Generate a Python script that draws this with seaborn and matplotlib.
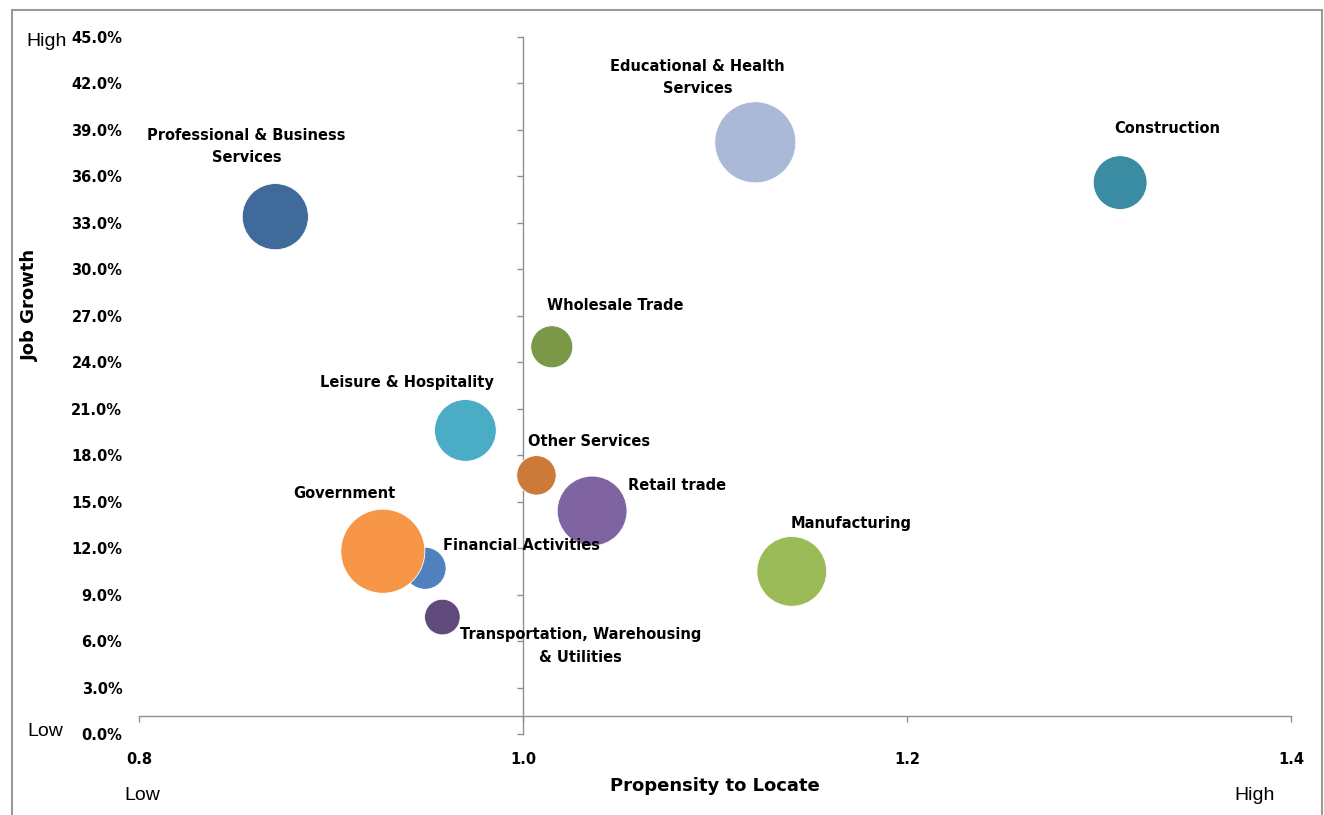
import matplotlib
matplotlib.use("Agg")
import matplotlib.pyplot as plt
import seaborn as sns
import pandas as pd
from matplotlib.patches import Rectangle
from matplotlib.ticker import FuncFormatter

# Industry bubbles: propensity to locate vs. job growth, bubble area ~ employment
industries = [
    "Professional & Business Services", "Educational & Health Services",
    "Construction", "Wholesale Trade", "Leisure & Hospitality",
    "Other Services", "Retail trade", "Financial Activities", "Government",
    "Transportation, Warehousing & Utilities", "Manufacturing",
]
labels = [
    "Professional & Business\nServices", "Educational & Health\nServices",
    "Construction", "Wholesale Trade", "Leisure & Hospitality",
    "Other Services", "Retail trade", "Financial Activities", "Government",
    "Transportation, Warehousing\n& Utilities", "Manufacturing",
]
propensity = [0.871, 1.121, 1.311, 1.015, 0.970, 1.007, 1.036, 0.949, 0.927, 0.958, 1.140]
job_growth = [0.334, 0.382, 0.356, 0.250, 0.196, 0.167, 0.144, 0.107, 0.118, 0.0755, 0.105]
employment = [62, 93, 41, 25, 54, 22, 69, 25, 100, 18, 69]
colors = ["#3F6A9A", "#A9B9D7", "#3A8CA3", "#7A9848", "#4BACC6", "#CC7A39",
          "#8064A2", "#4F81BD", "#F79646", "#604A7B", "#9BBB59"]

x_ticks = [0.8, 1.0, 1.2, 1.4]
y_ticks = [i * 0.03 for i in range(16)]

# label placement relative to each bubble centre (pixels)
label_offsets = [(-29, 70), (-58, 65), (47, 54), (63, 41), (-58, 48), (53, 34),
                 (85, 25), (96, 23), (-38, 58), (138, -29), (59, 48)]

df = pd.DataFrame({"industry": industries, "label": labels, "propensity": propensity,
                   "growth": job_growth, "employment": employment})

sns.set_theme(style="white")
plt.rcParams["font.family"] = ["DejaVu Sans"]
plt.rcParams["text.color"] = "black"

fig = plt.figure(figsize=(13.24, 8.15), dpi=100)
W, H = 1324, 815
ax = fig.add_axes([139 / W, 1 - 734 / H, (1291 - 139) / W, (734 - 37) / H])

k = 36.6  # marker area (pt^2) per employment unit
sns.scatterplot(data=df, x="propensity", y="growth", hue="industry",
                palette=dict(zip(industries, colors)), size="employment",
                sizes=(k * min(employment), k * max(employment)),
                edgecolor="white", linewidth=0.6, alpha=1.0,
                legend=False, ax=ax, zorder=3)

ax.set_xlim(0.8, 1.4)
ax.set_ylim(0, 0.45)
ax.set_xlabel("")
ax.set_ylabel("")

grey = "#8f8f8f"
for s in ["top", "right"]:
    ax.spines[s].set_visible(False)
ax.spines["left"].set_position(("data", 1.0))
ax.spines["bottom"].set_position(("data", 0.0115))
for s in ["left", "bottom"]:
    ax.spines[s].set_color(grey)
    ax.spines[s].set_linewidth(1.0)
ax.set_xticks(x_ticks)
ax.set_yticks(y_ticks)
ax.tick_params(axis="both", which="major", direction="out", length=4.3,
               width=1.0, color=grey, labelleft=False, labelbottom=False,
               left=True, bottom=True)

tick_font = dict(family="DejaVu Sans", weight="bold", size=10.5)

# tick labels sit at the low edge of the plot area
sec_y = ax.secondary_yaxis("left")
sec_y.set_yticks(y_ticks)
sec_y.yaxis.set_major_formatter(FuncFormatter(lambda v, p: f"{v * 100:.1f}%"))
sec_y.tick_params(length=0, pad=12, labelcolor="black")
for t in sec_y.get_yticklabels():
    t.set_fontproperties(tick_font)
for sp in sec_y.spines.values():
    sp.set_visible(False)

sec_x = ax.secondary_xaxis("bottom")
sec_x.set_xticks(x_ticks)
sec_x.xaxis.set_major_formatter(FuncFormatter(lambda v, p: f"{v:.1f}"))
sec_x.tick_params(length=0, pad=13, labelcolor="black")
for t in sec_x.get_xticklabels():
    t.set_fontproperties(tick_font)
for sp in sec_x.spines.values():
    sp.set_visible(False)

# bubble labels
for (x, y, lab), (dx, dy) in zip(zip(propensity, job_growth, labels), label_offsets):
    ax.annotate(lab, xy=(x, y), xytext=(dx, dy), textcoords="offset pixels",
                ha="center", va="center", multialignment="center",
                fontsize=10.5, fontweight="bold", color="black", zorder=5,
                linespacing=1.6)

# axis titles and Low / High markers
fig.text(715 / W, 1 - 786 / H, "Propensity to Locate", ha="center", va="center",
         fontsize=13, fontweight="bold", color="black")
fig.text(30 / W, 1 - 305 / H, "Job Growth", ha="center", va="center",
         rotation=90, fontsize=13, fontweight="bold", color="black")
corner_font = dict(family="Liberation Sans", fontsize=14, color="black")
fig.text(47 / W, 1 - 42 / H, "High", ha="center", va="center", **corner_font)
fig.text(45 / W, 1 - 731 / H, "Low", ha="center", va="center", **corner_font)
fig.text(142 / W, 1 - 795 / H, "Low", ha="center", va="center", **corner_font)
fig.text(1255 / W, 1 - 795 / H, "High", ha="center", va="center", **corner_font)

# chart border
fig.patches.append(Rectangle((12 / W, -0.02), (1322 - 12) / W, 1 - 10 / H + 0.02,
                             transform=fig.transFigure, fill=False,
                             edgecolor="#9a9a9a", linewidth=1.5))

fig.savefig("out.png", dpi=100)
